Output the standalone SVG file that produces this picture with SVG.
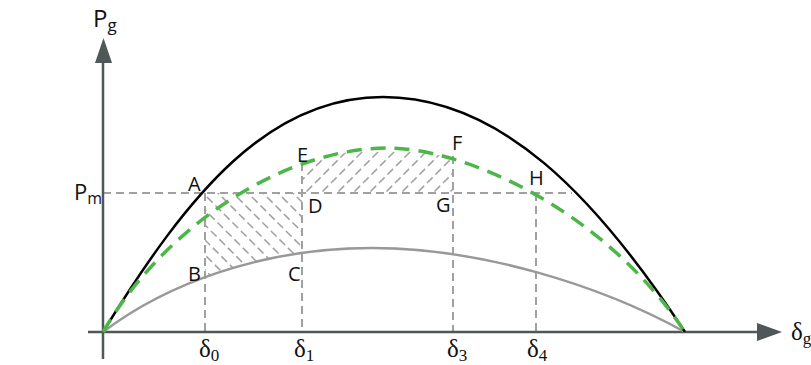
<svg xmlns="http://www.w3.org/2000/svg" width="811" height="365" viewBox="0 0 811 365">
<style>
.axis{stroke:#4f5759;stroke-width:2.5;fill:none}
.arr{fill:#4f5759}
.guide{stroke:#a0a0a0;stroke-width:2;stroke-dasharray:8 5;fill:none}
.hatch{stroke:#a0a0a0;stroke-width:1.5;stroke-dasharray:8 4;fill:none}
.lbl{font-family:"Open Sans","Liberation Sans",sans-serif;font-size:20px;fill:#111}
.sym{font-family:"Liberation Serif",serif;font-size:25px;fill:#111}
.sub{font-size:17px}
</style>
<defs>
<clipPath id="c1"><path d="M205,193 L302,193 L302,253 L276,257 L247,264 L219,272 L205,277 Z"/></clipPath>
<clipPath id="c2"><path d="M302,193 L302,163 L308.7,161.6 L324.7,156.9 L356.8,150.3 L388,148 L411.6,149.7 L438,155 L453,157 L453,193 Z"/></clipPath>
</defs>
<g id="hatches">
<g clip-path="url(#c1)"><path class="hatch" d="M100,180 L210,290 M115,180 L225,290 M130,180 L240,290 M145,180 L255,290 M160,180 L270,290 M175,180 L285,290 M190,180 L300,290 M205,180 L315,290 M220,180 L330,290 M235,180 L345,290 M250,180 L360,290 M265,180 L375,290 M280,180 L390,290 M295,180 L405,290"/></g>
<g clip-path="url(#c2)"><path class="hatch" d="M250,200 L310,140 M266,200 L326,140 M282,200 L342,140 M298,200 L358,140 M314,200 L374,140 M330,200 L390,140 M346,200 L406,140 M362,200 L422,140 M378,200 L438,140 M394,200 L454,140 M410,200 L470,140 M426,200 L486,140 M442,200 L502,140 M458,200 L518,140"/></g>
</g>
<g id="guides">
<path class="guide" d="M103,193 H572"/>
<path class="guide" d="M205,193 V332"/>
<path class="guide" d="M302,163 V332"/>
<path class="guide" d="M453,156 V332"/>
<path class="guide" d="M536,193 V332"/>
</g>
<g id="axes">
<path class="axis" d="M103,359 V60"/>
<polygon class="arr" points="95,63 112,63 103.5,38"/>
<path class="axis" d="M88,332 H760"/>
<polygon class="arr" points="757,323 757,341 782,332"/>
</g>
<g id="curves">
<path id="gray" d="M103,332 C165,285 260,248 372,248 C480,248 600,285 685,332" fill="none" stroke="#999" stroke-width="2.5"/>
<path id="black" d="M103,332 C190,190 270,97 383,97 C500,97 595,195 685,332" fill="none" stroke="#000" stroke-width="2.5"/>
<path id="green" d="M103,332 C165,225 285,148 388,148 C460,148 600,205 685,332" fill="none" stroke="#4cb748" stroke-width="3.5" stroke-dasharray="15 9"/>
</g>
<g id="labels">
<text class="lbl" x="188" y="191">A</text>
<text class="lbl" x="188" y="281">B</text>
<text class="lbl" x="288" y="281">C</text>
<text class="lbl" x="308" y="213">D</text>
<text class="lbl" x="297" y="162">E</text>
<text class="lbl" x="452" y="150">F</text>
<text class="lbl" x="436" y="212">G</text>
<text class="lbl" x="529" y="185">H</text>
<text class="lbl" x="74" y="200" style="font-size:22px">P<tspan style="font-size:16px" dy="4">m</tspan></text>
<text class="lbl" x="93" y="27" style="font-size:24px">P<tspan style="font-size:17px" dy="4">g</tspan></text>
<text class="sym" x="199" y="357">δ<tspan class="sub" dy="4">0</tspan></text>
<text class="sym" x="294" y="357">δ<tspan class="sub" dy="4">1</tspan></text>
<text class="sym" x="447" y="357">δ<tspan class="sub" dy="4">3</tspan></text>
<text class="sym" x="527" y="357">δ<tspan class="sub" dy="4">4</tspan></text>
<text class="sym" x="791" y="340">δ<tspan class="sub" dy="4">g</tspan></text>
</g>
</svg>
